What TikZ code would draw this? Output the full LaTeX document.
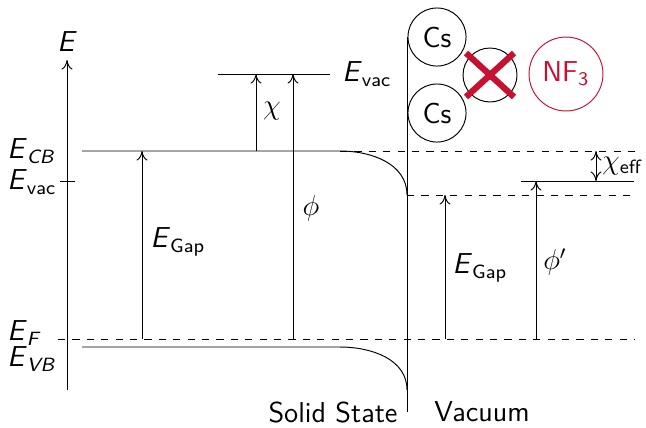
\documentclass[tikz,border=0pt]{standalone}
\usepackage{amsmath}
\usetikzlibrary{arrows.meta,positioning}
\definecolor{crossred}{RGB}{198,18,48}

\begin{document}
\begin{tikzpicture}[
  x=0.4167pt, y=-0.4167pt,
  font=\sffamily,
  lbl/.style={inner sep=1pt},
  side/.style={inner sep=0pt, anchor=west},
  level/.style={dashed},
  arrow/.style={-{To[length=1.4mm,width=1.6mm]}},
  atom/.style={draw, circle, inner sep=0pt, minimum size=24.2pt},
  cross/.style={crossred, line width=2.6pt}
]
\useasboundingbox (0,0) rectangle (646,427);
% energy axis
\coordinate (axB) at (67,390);
\coordinate (axT) at (67,60);
\draw[arrow] (axB) -- (axT);
\node[lbl] (elab) at (67,42) {\large\textit{E}};
\coordinate (tickL) at (60,181);
\coordinate (tickR) at (75,181);
\draw (tickL) -- (tickR);
\node[side] (ecb) at (7,151) {\large\textit{E}\textsubscript{\textit{CB}}};
\node[side] (evacl) at (7,182) {\large\textit{E}\textsubscript{vac}};
\node[side] (ef) at (7,333) {\large\textit{E}\textsubscript{\textit{F}}};
\node[side] (evb) at (7,359) {\large\textit{E}\textsubscript{\textit{VB}}};
% surface
\coordinate (surfT) at (407,37);
\coordinate (surfB) at (407,412);
\draw (surfT) -- (surfB);
% bands
\coordinate (cbL) at (82,151);
\coordinate (cbK) at (340,151);
\coordinate (cbS) at (407,195);
\coordinate (cbR) at (635,151);
\coordinate (vacR) at (635,195);
\draw (cbL) -- (cbK) to[out=0,in=90] (cbS);
\draw[level] (cbK) -- (cbR);
\draw[level] (cbS) -- (vacR);
\coordinate (efL) at (58,339);
\coordinate (efR) at (635,339);
\draw[level] (efL) -- (efR);
\coordinate (vbL) at (82,347);
\coordinate (vbK) at (340,347);
\coordinate (vbS) at (407,390);
\draw (vbL) -- (vbK) to[out=0,in=90] (vbS);
% vacuum level in the bulk
\coordinate (vacL) at (218,74);
\coordinate (vacRt) at (330,74);
\draw (vacL) -- (vacRt);
\node[lbl, right=4pt of vacRt] (evac) {\large\textit{E}\textsubscript{vac}};
% bulk arrows
\coordinate (gapB) at (142,339);
\coordinate (gapT) at (142,151);
\draw[arrow] (gapB) -- (gapT);
\node[lbl] (gaplab) at (178,242) {\large\textit{E}\textsubscript{Gap}};
\coordinate (chiB) at (256,151);
\coordinate (chiT) at (256,74);
\draw[arrow] (chiB) -- (chiT);
\node[lbl] (chilab) at (272,111) {\large$\chi$};
\coordinate (phiB) at (293,339);
\coordinate (phiT) at (293,74);
\draw[arrow] (phiB) -- (phiT);
\node[lbl] (philab) at (311,208) {\large$\phi$};
% surface arrows
\coordinate (gap2B) at (445,339);
\coordinate (gap2T) at (445,195);
\draw[arrow] (gap2B) -- (gap2T);
\node[lbl] (gap2lab) at (480,268) {\large\textit{E}\textsubscript{Gap}};
\coordinate (effL) at (521,181);
\coordinate (effR) at (634,181);
\draw (effL) -- (effR);
\coordinate (phi2B) at (536,339);
\coordinate (phi2T) at (536,181);
\draw[arrow] (phi2B) -- (phi2T);
\node[lbl] (phi2lab) at (555,262) {\large$\phi'$};
\coordinate (chieT) at (596,151);
\coordinate (chieB) at (596,181);
\draw[{To[length=1.4mm,width=1.6mm]}-{To[length=1.4mm,width=1.6mm]}] (chieT) -- (chieB);
\node[lbl] (chielab) at (622,166) {\large$\chi$\textsubscript{eff}};
% adsorbates
\node[atom] (cs1) at (437,37) {\large Cs};
\node[atom] (cs2) at (437,113) {\large Cs};
\node[atom, minimum size=22.5pt] (oxy) at (490,75) {};
\node[draw, circle, inner sep=0pt, minimum size=3.5pt] (oxyc) at (oxy) {};
\draw[cross] ([shift={(-24,-22)}]oxy.center) -- ([shift={(24,22)}]oxy.center);
\draw[cross] ([shift={(-24,22)}]oxy.center) -- ([shift={(24,-22)}]oxy.center);
\node[atom, draw=crossred, text=crossred, minimum size=30.8pt] (nf3) at (566,74) {\large NF\textsubscript{3}};
% regions
\node[lbl] (solid) at (333,412) {\large Solid State};
\node[lbl] (vacuum) at (482,412) {\large Vacuum};
\end{tikzpicture}
\end{document}
